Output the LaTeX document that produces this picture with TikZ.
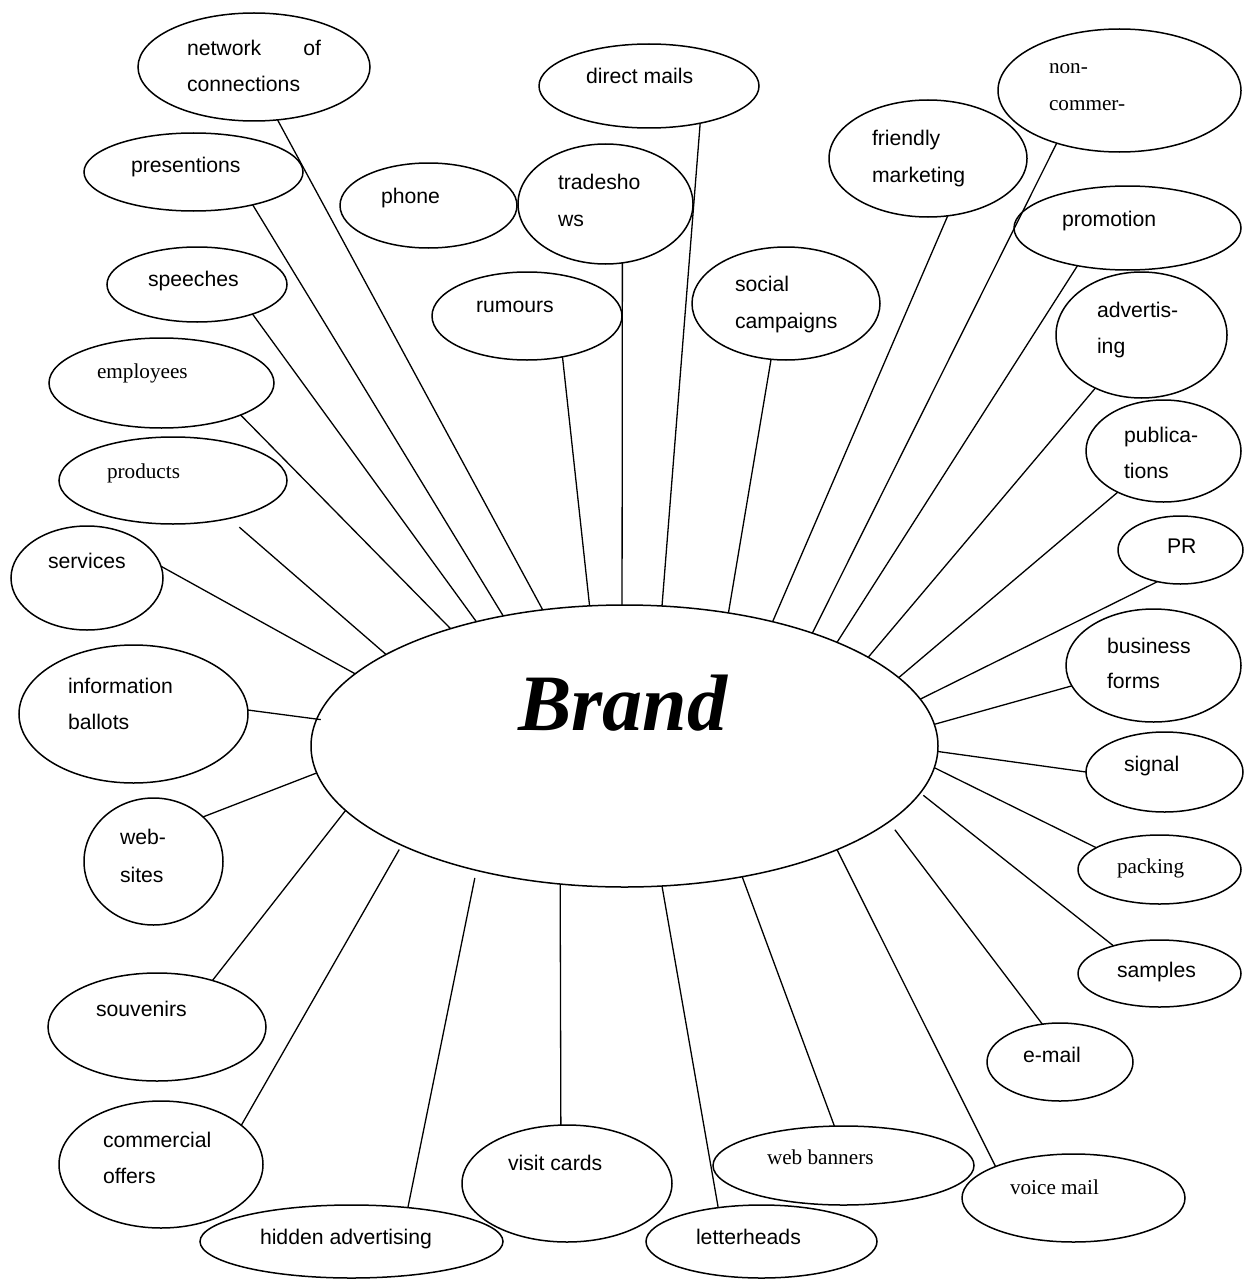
\documentclass[tikz,border=0pt]{standalone}
\usepackage{fontspec}
\setmainfont{Liberation Sans}
\newfontfamily\timesfont{Liberation Serif}
\usetikzlibrary{shapes.geometric}

\tikzset{
  bub/.style={draw, ellipse, inner sep=0pt, outer sep=0pt, line width=0.75pt},
  link/.style={line width=0.65pt},
  lbl/.style={anchor=base west, inner sep=0pt, outer sep=0pt,
              font=\fontsize{10.6}{12}\selectfont},
  slbl/.style={lbl, font=\timesfont\fontsize{10.6}{12}\selectfont}
}

\begin{document}
\begin{tikzpicture}[x=0.5pt, y=-0.5pt]
\useasboundingbox (0,0) rectangle (1253,1279);

% ---- bubbles (centre, size) ----
\node[bub, minimum width=116pt,   minimum height=54pt]   (net)     at (254,67)      {};
\node[bub, minimum width=110pt,   minimum height=42pt]   (dmail)   at (649,86)      {};
\node[bub, minimum width=121.5pt, minimum height=61.5pt] (noncom)  at (1119.5,90.5) {};
\node[bub, minimum width=109.5pt, minimum height=39pt]   (pres)    at (193.5,172)   {};
\node[bub, minimum width=88.5pt,  minimum height=42.5pt] (phone)   at (428.5,205.5) {};
\node[bub, minimum width=87.5pt,  minimum height=60pt]   (trade)   at (605.5,204)   {};
\node[bub, minimum width=99pt,    minimum height=58.5pt] (friend)  at (928,158.5)   {};
\node[bub, minimum width=113.5pt, minimum height=42pt]   (promo)   at (1127.5,228)  {};
\node[bub, minimum width=90pt,    minimum height=37.5pt] (speech)  at (197,284.5)   {};
\node[bub, minimum width=95pt,    minimum height=44pt]   (rumour)  at (527,316)     {};
\node[bub, minimum width=94pt,    minimum height=56.5pt] (social)  at (786,303.5)   {};
\node[bub, minimum width=85.5pt,  minimum height=63pt]   (advert)  at (1141.5,335)  {};
\node[bub, minimum width=112.5pt, minimum height=45pt]   (employ)  at (161.5,383)   {};
\node[bub, minimum width=77.5pt,  minimum height=51pt]   (publ)    at (1163.5,451)  {};
\node[bub, minimum width=114pt,   minimum height=43.5pt] (prod)    at (173,480.5)   {};
\node[bub, minimum width=62.5pt,  minimum height=34pt]   (pr)      at (1180.5,550)  {};
\node[bub, minimum width=76pt,    minimum height=52pt]   (serv)    at (87,578)      {};
\node[bub, minimum width=87.5pt,  minimum height=56.5pt] (bforms)  at (1153.5,665.5) {};
\node[bub, minimum width=114.5pt, minimum height=69pt]   (info)    at (133.5,714)   {};
\node[bub, minimum width=313.5pt, minimum height=141pt]  (brand)   at (624.5,746)   {};
\node[bub, minimum width=78.5pt,  minimum height=40pt]   (signal)  at (1164.5,772)  {};
\node[bub, minimum width=69.5pt,  minimum height=63.5pt] (websites) at (153.5,861.5) {};
\node[bub, minimum width=81.5pt,  minimum height=34.5pt] (packing) at (1159.5,869.5) {};
\node[bub, minimum width=81.5pt,  minimum height=33.5pt] (samples) at (1159.5,973.5) {};
\node[bub, minimum width=109pt,   minimum height=54pt]   (souv)    at (157,1027)    {};
\node[bub, minimum width=73pt,    minimum height=39pt]   (email)   at (1060,1062)   {};
\node[bub, minimum width=102pt,   minimum height=63.5pt] (comm)    at (161,1164.5)  {};
\node[bub, minimum width=105pt,   minimum height=58.5pt] (visit)   at (567,1183.5)  {};
\node[bub, minimum width=130.5pt, minimum height=39.5pt] (webban)  at (843.5,1165.5) {};
\node[bub, minimum width=111.5pt, minimum height=44pt]   (voice)   at (1073.5,1198) {};
\node[bub, minimum width=151.5pt, minimum height=36.5pt] (hidden)  at (351.5,1241.5) {};
\node[bub, minimum width=115.5pt, minimum height=36.5pt] (letter)  at (761.5,1241.5) {};

% ---- labels ----
\node[lbl] (net-a)    at (187,56)   {\hbox to 67pt{network\hfill of}};
\node[lbl] (net-b)    at (187,92)   {connections};
\node[lbl] (dmail-t)  at (586,84)   {direct mails};
\node[slbl] (noncom-a) at (1049,74) {non-};
\node[slbl] (noncom-b) at (1049,111) {commer-};
\node[lbl] (pres-t)   at (131,172)  {presentions};
\node[lbl] (phone-t)  at (381,203)  {phone};
\node[lbl] (trade-a)  at (558,189)  {tradesho};
\node[lbl] (trade-b)  at (558,226)  {ws};
\node[lbl] (friend-a) at (872,146)  {friendly};
\node[lbl] (friend-b) at (872,182)  {marketing};
\node[lbl] (promo-t)  at (1062,226) {promotion};
\node[lbl] (speech-t) at (148,286)  {speeches};
\node[lbl] (rumour-t) at (476,312)  {rumours};
\node[lbl] (social-a) at (735,291)  {social};
\node[lbl] (social-b) at (735,328)  {campaigns};
\node[lbl] (advert-a) at (1097,317) {advertis-};
\node[lbl] (advert-b) at (1097,353) {ing};
\node[slbl] (employ-t) at (97,378)  {employees};
\node[lbl] (publ-a)   at (1124,442) {publica-};
\node[lbl] (publ-b)   at (1124,478) {tions};
\node[slbl] (prod-t)  at (107,478)  {products};
\node[lbl] (pr-t)     at (1167,553) {PR};
\node[lbl] (serv-t)   at (48,568)   {services};
\node[lbl] (bforms-a) at (1107,653) {business};
\node[lbl] (bforms-b) at (1107,688) {forms};
\node[lbl] (info-a)   at (68,693)   {information};
\node[lbl] (info-b)   at (68,729)   {ballots};
\node[anchor=base west, inner sep=0pt,
      font=\timesfont\bfseries\itshape\fontsize{40}{40}\selectfont]
      (brand-t) at (518,730) {Brand};
\node[lbl] (signal-t) at (1124,771) {signal};
\node[lbl] (websites-a) at (120,844) {web-};
\node[lbl] (websites-b) at (120,882) {sites};
\node[slbl] (packing-t) at (1117,873) {packing};
\node[lbl] (samples-t) at (1117,977) {samples};
\node[lbl] (souv-t)   at (96,1016)  {souvenirs};
\node[lbl] (email-t)  at (1023,1062) {e-mail};
\node[lbl] (comm-a)   at (103,1147) {commercial};
\node[lbl] (comm-b)   at (103,1183) {offers};
\node[lbl] (visit-t)  at (508,1170) {visit cards};
\node[slbl] (webban-t) at (767,1164) {web banners};
\node[slbl] (voice-t) at (1010,1194) {voice mail};
\node[lbl] (hidden-t) at (260,1244) {hidden advertising};
\node[lbl] (letter-t) at (696,1244) {letterheads};

% ---- spokes to the brand ----
\draw[link] (net.-66.4)     -- (brand.121.9);
\draw[link] (pres.-29.4)    -- (brand.133.7);
\draw[link] (speech.-28.6)  -- (brand.140.7);
\draw[link] (employ.-22.8)  -- (brand.146.2);
\draw[link, shorten <=6.75pt] (prod.-34.2) -- (brand.159.2);
\draw[link] (serv.9.1)      -- (brand.165.9);
\draw[link, shorten >=-2pt] (info.2.5) -- (brand.175.6);
\draw[link] (websites.42.6) -- (brand.185.2);
\draw[link] (souv.40.3)     -- (brand.193.8);
\draw[link, shorten >=2.5pt] (comm.26.0)   -- (brand.204.7);
\draw[link, shorten >=3.9pt] (hidden.31.7) -- (brand.220.6);
\draw[link] (visit.96.8)    -- (brand.245.4);
\draw[link] (letter.142.5)  -- (brand.-75.9);
\draw[link] (webban.103.2)  -- (brand.-48.1);
\draw[link] (voice.158.1)   -- (brand.-26.3);
\draw[link, shorten >=5pt] (email.115.3) -- (brand.-16.7);
\draw[link, shorten >=2pt] (samples.149.9) -- (brand.-9.9);
\draw[link] (packing.161.0) -- (brand.-4.9);
\draw[link] (signal.180.7)  -- (brand.-1.5);
\draw[link] (bforms.194.6)  -- (brand.4.4);
\draw[link] (pr.234.5)      -- (brand.9.8);
\draw[link] (publ.222.1)    -- (brand.14.3);
\draw[link] (advert.229.3)  -- (brand.20.8);
\draw[link] (promo.217.8)   -- (brand.26.4);
\draw[link] (noncom.220.1)  -- (brand.31.9);
\draw[link] (friend.-71.3)  -- (brand.40.1);
\draw[link] (social.255.1)  -- (brand.52.7);
\draw[link] (dmail.-36.2)   -- (brand.75.5);
\draw[link] (trade.-74.6)   -- (brand.91.0);
\draw[link] (rumour.-49.3)  -- (brand.104.5);
\end{tikzpicture}
\end{document}
